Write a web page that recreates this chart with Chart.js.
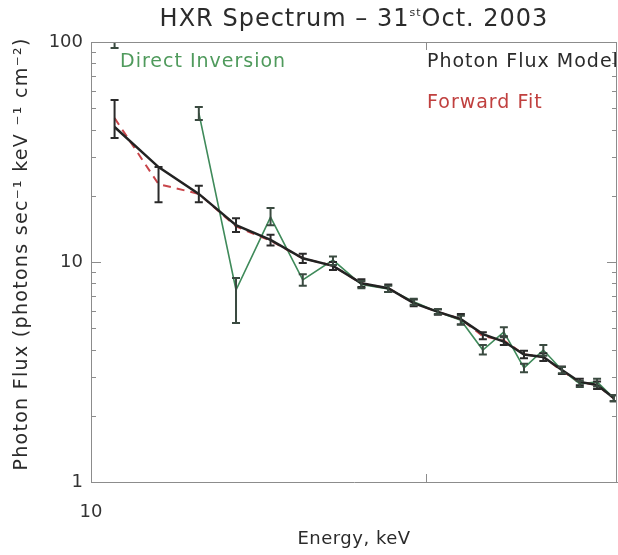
<!DOCTYPE html>
<html>
<head>
<meta charset="utf-8">
<script src="https://cdn.jsdelivr.net/npm/chart.js@4.4.0/dist/chart.umd.min.js"></script>
<style>
  html, body { margin: 0; padding: 0; background: #fff; }
</style>
</head>
<body>
<canvas id="hxrChart" width="618" height="555"></canvas>
<script>
// energy bins (keV)
const energy = [10.5, 11.5, 12.5, 13.5, 14.5, 15.5, 16.5, 17.5, 18.5, 19.5,
  20.5, 21.5, 22.5, 23.5, 24.5, 25.5, 26.5, 27.5, 28.5, 29.5];

// photon flux model (black line)
const modelFlux = [41.1, 27.0, 20.4, 14.7, 12.6, 10.4, 9.6, 8.0, 7.6, 6.5,
  5.93, 5.5, 4.7, 4.35, 3.8, 3.7, 3.23, 2.85, 2.76, 2.41];

// forward fit (red dashed) and its error bars
const fitFlux = [45.1, 22.6, 20.4, 14.5, 12.5, 10.4, 9.6, 8.0, 7.6, 6.5,
  5.93, 5.5, 4.6, 4.4, 3.8, 3.7, 3.2, 2.85, 2.76, 2.4];
const fitLow = [36.6, 18.7, 18.7, 13.7, 11.9, 9.9, 9.2, 7.7, 7.3, 6.3,
  5.75, 5.2, 4.45, 4.2, 3.65, 3.55, 3.1, 2.75, 2.65, 2.33];
const fitHigh = [54.5, 27.0, 22.2, 15.8, 13.3, 10.9, 10.0, 8.35, 7.9, 6.75,
  6.1, 5.8, 4.8, 4.6, 3.95, 3.85, 3.35, 2.95, 2.86, 2.48];

// direct inversion (green) and its error bars; first point is off scale
const invFlux = [130, null, 47.6, 7.46, 16.0, 8.3, 10.2, 7.9, 7.55, 6.6,
  5.93, 5.44, 3.98, 4.81, 3.3, 3.98, 3.23, 2.79, 2.85, 2.41];
const invLow = [94, null, 44.2, 5.28, 14.7, 7.8, 9.7, 7.6, 7.3, 6.4,
  5.8, 5.2, 3.8, 4.55, 3.15, 3.75, 3.12, 2.7, 2.72, 2.33];
const invHigh = [170, null, 50.6, 8.46, 17.6, 8.8, 10.6, 8.2, 7.8, 6.8,
  6.1, 5.7, 4.2, 5.05, 3.45, 4.2, 3.33, 2.88, 2.95, 2.48];

const xTicks = [10, 20];
const yTicks = [1, 10, 100];

const FONT = "'DejaVu Sans', sans-serif";
const axisColor = "#8c8c8c";

function toPoints(values) {
  return energy.map((e, i) => ({ x: e, y: values[i] }));
}

function drawErrorBars(chart, lows, highs, color) {
  const { ctx, chartArea, scales } = chart;
  ctx.save();
  ctx.beginPath();
  ctx.rect(chartArea.left, chartArea.top, chartArea.right - chartArea.left, chartArea.bottom - chartArea.top);
  ctx.clip();
  ctx.strokeStyle = color;
  ctx.lineWidth = 2;
  energy.forEach((e, i) => {
    if (lows[i] == null) return;
    const px = scales.x.getPixelForValue(e);
    const y0 = scales.y.getPixelForValue(lows[i]);
    const y1 = scales.y.getPixelForValue(highs[i]);
    ctx.beginPath();
    ctx.moveTo(px, y0); ctx.lineTo(px, y1);
    ctx.moveTo(px - 4, y0); ctx.lineTo(px + 4, y0);
    ctx.moveTo(px - 4, y1); ctx.lineTo(px + 4, y1);
    ctx.stroke();
  });
  ctx.restore();
}

const idlFrame = {
  id: "idlFrame",
  afterDatasetsDraw(chart) {
    drawErrorBars(chart, fitLow, fitHigh, "#2a2a2a");
    drawErrorBars(chart, invLow, invHigh, "#3a4a40");
  },
  afterDraw(chart) {
    const { ctx, chartArea: a, scales } = chart;
    ctx.save();
    ctx.strokeStyle = axisColor;
    ctx.lineWidth = 1;
    // top and right frame
    ctx.beginPath();
    ctx.moveTo(a.left, a.top + 0.5); ctx.lineTo(a.right, a.top + 0.5);
    ctx.moveTo(a.right - 0.5, a.top); ctx.lineTo(a.right - 0.5, a.bottom);
    ctx.stroke();
    // inward y ticks, both sides
    ctx.beginPath();
    [1, 10].forEach(dec => {
      for (let m = 2; m <= 9; m++) {
        const py = Math.round(scales.y.getPixelForValue(m * dec)) + 0.5;
        ctx.moveTo(a.left, py); ctx.lineTo(a.left + 5, py);
        ctx.moveTo(a.right, py); ctx.lineTo(a.right - 5, py);
      }
    });
    const p10 = Math.round(scales.y.getPixelForValue(10)) + 0.5;
    ctx.moveTo(a.left, p10); ctx.lineTo(a.left + 10, p10);
    ctx.moveTo(a.right, p10); ctx.lineTo(a.right - 10, p10);
    // inward x tick at 20
    const p20 = Math.round(scales.x.getPixelForValue(20)) + 0.5;
    ctx.moveTo(p20, a.bottom); ctx.lineTo(p20, a.bottom - 8);
    ctx.moveTo(p20, a.top); ctx.lineTo(p20, a.top + 8);
    ctx.stroke();

    // title with superscript "st"
    ctx.textBaseline = "middle";
    ctx.fillStyle = "#2b2b2b";
    const cx = (a.left + a.right) / 2;
    const t1 = "HXR Spectrum \u2013 31", t2 = "st", t3 = "Oct. 2003";
    ctx.letterSpacing = "1px";
    ctx.font = "24px " + FONT;
    const w1 = ctx.measureText(t1).width, w3 = ctx.measureText(t3).width;
    ctx.font = "11px " + FONT;
    const w2 = ctx.measureText(t2).width;
    const sx = cx - (w1 + w2 + w3) / 2;
    ctx.textAlign = "left";
    ctx.font = "24px " + FONT;
    ctx.fillText(t1, sx, 20);
    ctx.font = "11px " + FONT;
    ctx.fillText(t2, sx + w1, 13);
    ctx.font = "24px " + FONT;
    ctx.fillText(t3, sx + w1 + w2, 20);

    ctx.textAlign = "center";
    ctx.letterSpacing = "0.5px";
    ctx.font = "18px " + FONT;
    ctx.fillText("Energy, keV", cx, 539);

    ctx.save();
    ctx.letterSpacing = "1.3px";
    ctx.font = "19px " + FONT;
    ctx.translate(22, (a.top + a.bottom) / 2 - 8);
    ctx.rotate(-Math.PI / 2);
    ctx.fillText("Photon Flux (photons sec\u207B\u00B9 keV \u207B\u00B9 cm\u207B\u00B2)", 0, 0);
    ctx.restore();

    ctx.textAlign = "left";
    ctx.letterSpacing = "1px";
    ctx.font = "19px " + FONT;
    ctx.fillStyle = "#4f9a5c";
    ctx.fillText("Direct Inversion", 120, 62);
    ctx.fillStyle = "#2a2a2a";
    ctx.fillText("Photon Flux Model", 427, 62);
    ctx.fillStyle = "#c0403f";
    ctx.fillText("Forward Fit", 427, 103);
    ctx.restore();
  }
};

new Chart(document.getElementById("hxrChart").getContext("2d"), {
  type: "line",
  data: {
    datasets: [
      {
        label: "Photon Flux Model",
        data: toPoints(modelFlux),
        borderColor: "#222222",
        borderWidth: 2.5,
        pointRadius: 0,
        tension: 0,
      },
      {
        label: "Forward Fit",
        data: toPoints(fitFlux),
        borderColor: "#c8454a",
        borderWidth: 2,
        borderDash: [8, 6],
        pointRadius: 0,
        tension: 0,
      },
      {
        label: "Direct Inversion",
        data: toPoints(invFlux),
        borderColor: "#3f8a5a",
        borderWidth: 1.6,
        pointRadius: 0,
        tension: 0,
        spanGaps: false,
      },
    ],
  },
  options: {
    responsive: false,
    animation: false,
    layout: { padding: { top: 42, right: 1, left: 0, bottom: 0 } },
    plugins: { legend: { display: false }, tooltip: { enabled: false } },
    scales: {
      x: {
        type: "logarithmic",
        min: 10,
        max: 29.7,
        afterBuildTicks: (scale) => { scale.ticks = xTicks.map(v => ({ value: v })); },
        afterFit: (scale) => { scale.height = 73; },
        ticks: {
          autoSkip: false,
          maxRotation: 0,
          padding: 20,
          color: "#333",
          font: { family: FONT, size: 18 },
          callback: (v) => (v === 10 ? "10" : ""),
        },
        grid: { display: false, drawTicks: false },
        border: { display: true, color: axisColor, width: 1 },
      },
      y: {
        type: "logarithmic",
        min: 1,
        max: 100,
        afterBuildTicks: (scale) => { scale.ticks = yTicks.map(v => ({ value: v })); },
        afterFit: (scale) => { scale.width = 91; },
        ticks: {
          autoSkip: false,
          padding: 8,
          color: "#333",
          font: { family: FONT, size: 18 },
          callback: (v) => String(v),
        },
        grid: { display: false, drawTicks: false },
        border: { display: true, color: axisColor, width: 1 },
      },
    },
  },
  plugins: [idlFrame],
});
</script>
</body>
</html>
